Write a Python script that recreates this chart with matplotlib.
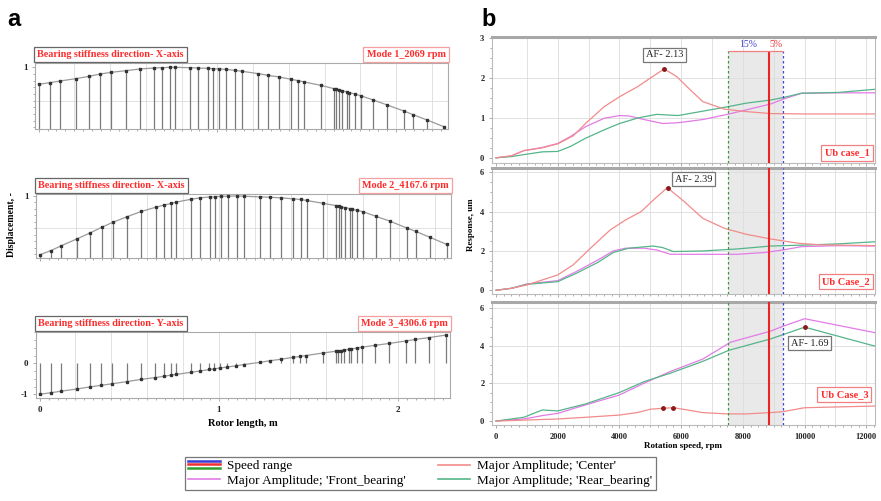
import matplotlib
matplotlib.use("Agg")
import matplotlib.pyplot as plt
from matplotlib.lines import Line2D
from matplotlib.legend_handler import HandlerBase
from matplotlib.ticker import MultipleLocator, FixedLocator

plt.rcParams['font.family'] = ['Liberation Serif', 'DejaVu Serif']
plt.rcParams['axes.unicode_minus'] = False

# ---------------- data: mode shapes (panel a) ----------------
node_x = [0, 0.063, 0.121, 0.207, 0.283, 0.345, 0.406, 0.488, 0.566, 0.646, 0.693,
          0.734, 0.762, 0.845, 0.894, 0.948, 0.974, 1.009, 1.047, 1.097, 1.140,
          1.229, 1.283, 1.345, 1.413, 1.453, 1.486, 1.579, 1.652, 1.665, 1.680,
          1.698, 1.726, 1.739, 1.769, 1.801, 1.872, 1.950, 2.043, 2.095, 2.173, 2.266]
mode1 = [0.745, 0.77, 0.795, 0.83, 0.865, 0.90, 0.925, 0.95, 0.975, 0.99, 0.995,
         1.0, 1.0, 0.995, 0.99, 0.985, 0.98, 0.975, 0.97, 0.955, 0.94,
         0.905, 0.88, 0.855, 0.82, 0.80, 0.78, 0.73, 0.68, 0.675, 0.665,
         0.65, 0.63, 0.62, 0.60, 0.575, 0.51, 0.435, 0.345, 0.29, 0.21, 0.11]
mode2 = [0.088, 0.155, 0.23, 0.335, 0.43, 0.515, 0.59, 0.68, 0.76, 0.825, 0.86,
         0.885, 0.905, 0.95, 0.97, 0.985, 0.985, 0.995, 0.995, 1.0, 0.995,
         0.985, 0.98, 0.97, 0.955, 0.945, 0.93, 0.885, 0.85, 0.84, 0.83,
         0.82, 0.805, 0.795, 0.775, 0.755, 0.685, 0.61, 0.505, 0.45, 0.36, 0.25]
mode3 = [-1.0, -0.95, -0.90, -0.83, -0.76, -0.71, -0.66, -0.59, -0.52, -0.46, -0.42,
         -0.38, -0.36, -0.29, -0.25, -0.20, -0.18, -0.15, -0.12, -0.08, -0.04,
         0.03, 0.08, 0.13, 0.19, 0.22, 0.25, 0.33, 0.39, 0.40, 0.41,
         0.43, 0.45, 0.46, 0.49, 0.52, 0.58, 0.64, 0.72, 0.77, 0.83, 0.91]
mode_titles = ["Bearing stiffness direction- X-axis", "Bearing stiffness direction- X-axis",
               "Bearing stiffness direction- Y-axis"]
mode_names = ["Mode 1_2069 rpm", "Mode 2_4167.6 rpm", "Mode 3_4306.6 rpm"]

# ---------------- data: responses (panel b) ----------------
c1_center_x = [0, 500, 900, 1500, 2000, 2500, 2900, 3500, 4000, 4600, 5000, 5450, 5850, 6300, 6700, 7400, 8100, 8900, 10000, 12300]
c1_center_y = [0, 0.05, 0.18, 0.25, 0.35, 0.55, 0.86, 1.28, 1.53, 1.79, 2.0, 2.23, 2.04, 1.7, 1.41, 1.22, 1.16, 1.11, 1.1, 1.1]
c1_front_x = [0, 500, 900, 1500, 2000, 2400, 2900, 3500, 4000, 4300, 4800, 5400, 5900, 6700, 7500, 8100, 8900, 9300, 9900, 11100, 12300]
c1_front_y = [0, 0.05, 0.18, 0.26, 0.36, 0.53, 0.78, 0.99, 1.06, 1.05, 0.96, 0.86, 0.88, 0.96, 1.09, 1.2, 1.35, 1.47, 1.62, 1.63, 1.63]
c1_rear_x = [0, 500, 900, 1500, 2000, 2400, 2900, 3500, 4000, 4600, 5200, 5900, 6700, 7500, 8100, 8900, 9300, 9900, 11100, 12300]
c1_rear_y = [0, 0.03, 0.08, 0.15, 0.16, 0.28, 0.49, 0.7, 0.86, 1.0, 1.09, 1.06, 1.17, 1.28, 1.37, 1.45, 1.51, 1.62, 1.64, 1.72]

c2_center_x = [0, 500, 1000, 2000, 2500, 3000, 3700, 4200, 4700, 5100, 5550, 6100, 6700, 7400, 8100, 8900, 9800, 10500, 12300]
c2_center_y = [0, 0.1, 0.27, 0.78, 1.29, 2.05, 3.07, 3.58, 4.0, 4.59, 5.22, 4.51, 3.66, 3.15, 2.85, 2.61, 2.39, 2.31, 2.27]
c2_front_x = [0, 500, 1000, 2000, 2600, 3300, 3800, 4200, 4800, 5200, 5650, 6700, 7800, 8700, 9300, 9900, 11100, 12300]
c2_front_y = [0, 0.1, 0.32, 0.49, 0.95, 1.54, 2.0, 2.14, 2.14, 2.05, 1.83, 1.83, 1.83, 1.92, 2.05, 2.22, 2.27, 2.25]
c2_rear_x = [0, 500, 1000, 2000, 2600, 3300, 3800, 4300, 5100, 5400, 5750, 6700, 7800, 8900, 10000, 11100, 12300]
c2_rear_y = [0, 0.1, 0.3, 0.44, 0.86, 1.42, 1.92, 2.14, 2.25, 2.17, 1.97, 2.0, 2.1, 2.25, 2.3, 2.36, 2.47]

c3_center_x = [0, 900, 2000, 2900, 4000, 4600, 5000, 5400, 5750, 6200, 6700, 7500, 8100, 8900, 9300, 10000, 12300]
c3_center_y = [0, 0.05, 0.11, 0.2, 0.32, 0.46, 0.63, 0.68, 0.71, 0.59, 0.45, 0.38, 0.38, 0.45, 0.5, 0.71, 0.8]
c3_front_x = [0, 900, 1500, 2000, 2900, 4000, 4800, 5650, 6700, 7600, 8900, 9300, 10000, 12300]
c3_front_y = [0, 0.11, 0.29, 0.41, 0.86, 1.39, 2.02, 2.64, 3.3, 4.2, 4.79, 5.05, 5.45, 4.7]
c3_rear_x = [0, 900, 1500, 2000, 2900, 4000, 4800, 5650, 6700, 7550, 8900, 10000, 12300]
c3_rear_y = [0, 0.2, 0.59, 0.54, 0.91, 1.52, 2.1, 2.55, 3.18, 3.77, 4.375, 5.0, 3.98]

case_names = ["Ub case_1", "Ub Case_2", "Ub Case_3"]
af_labels = ["AF- 2.13", "AF- 2.39", "AF- 1.69"]
af_points = [(5450, 2.23), (5560, 5.2), (10000, 5.0)]
c3_center_dots_x = [5400, 5750]
c3_center_dots_y = [0.68, 0.71]

speed_low, speed_op, speed_high = 7520, 8850, 9290

RED = '#f28b8b'
MAG = '#e27be6'
GRN = '#55b58a'
TXTRED = '#ff2b2b'

W, H = 881, 501


def px_axes(fig, left, top, right, bottom):
    return fig.add_axes([left / W, 1 - bottom / H, (right - left) / W, (bottom - top) / H])


class SpeedRange:
    colors = ['#3b3bd6', '#ee3030', '#2fa02f']


class StackHandler(HandlerBase):
    def create_artists(self, legend, orig_handle, xdescent, ydescent, width, height, fontsize, trans):
        arts = []
        for i, c in enumerate(orig_handle.colors):
            y = -ydescent + height * (0.9 - 0.38 * i)
            arts.append(Line2D([-xdescent, -xdescent + width], [y, y], color=c, lw=1.8, transform=trans))
        return arts


fig = plt.figure(figsize=(W / 100, H / 100), dpi=100)

# ---------------- panel a ----------------
a_boxes = [(35, 63, 448, 129), (36, 194, 451, 258), (36, 332, 450, 398)]
a_ylims = [(0.075, 1.065), (0.04, 1.03), (-1.12, 1.01)]
modes = [mode1, mode2, mode3]
for i, ax_box in enumerate(a_boxes):
    ax = px_axes(fig, *ax_box)
    y = modes[i]
    base = 0 if i == 2 else a_ylims[i][0]
    ax.vlines(node_x, base, y, color='#7a7a7a', lw=0.9, zorder=2)
    ax.plot(node_x, y, color='#9a9a9a', lw=0.9, zorder=3)
    ax.plot(node_x, y, ls='none', marker='s', ms=2.0, color='#333333', zorder=4)
    ax.set_xlim(-0.02, 2.29)
    ax.set_ylim(*a_ylims[i])
    ax.xaxis.set_major_locator(MultipleLocator(1))
    ax.xaxis.set_minor_locator(MultipleLocator(0.05))
    for gx in [k * 0.2 for k in range(1, 12)]:
        ax.axvline(gx, color='#dddddd', lw=0.6, zorder=0)
    if i == 2:
        ax.yaxis.set_major_locator(FixedLocator([-1, 0]))
        ax.yaxis.set_minor_locator(MultipleLocator(0.25))
    else:
        ax.yaxis.set_major_locator(FixedLocator([1]))
        ax.yaxis.set_minor_locator(MultipleLocator(0.1))
        ax.axhline(0.5, color='#dddddd', lw=0.6, zorder=0)
    ax.tick_params(which='both', direction='out', length=2, width=0.5, colors='#888888',
                   labelsize=6.5, labelcolor='#222222')
    ax.tick_params(which='minor', length=1.5)
    for lab in ax.get_xticklabels() + ax.get_yticklabels():
        lab.set_fontweight('bold')
    if i != 2:
        ax.set_xticklabels([])
    for s in ax.spines.values():
        s.set_color('#aaaaaa')
        s.set_linewidth(0.8)
    ax.text(0.006, 1.06, mode_titles[i], transform=ax.transAxes, ha='left', va='bottom',
            fontsize=7.3, fontweight='bold', color=TXTRED,
            bbox=dict(boxstyle='square,pad=0.3', fc='white', ec='#666666', lw=0.9))
    ax.text(0.994, 1.06, mode_names[i], transform=ax.transAxes, ha='right', va='bottom',
            fontsize=7.3, fontweight='bold', color=TXTRED,
            bbox=dict(boxstyle='square,pad=0.3', fc='white', ec='#f4a0a0', lw=0.9))
    if i == 2:
        ax.set_xlabel("Rotor length, m", fontsize=7.5, fontweight='bold', labelpad=4)

fig.text(12 / W, 1 - 225 / H, "Displacement, -", rotation=90, ha='center', va='center',
         fontsize=7, fontweight='bold')

# ---------------- panel b ----------------
b_boxes = [(492, 37, 875, 163), (492, 168, 875, 294), (492, 302, 875, 425)]
b_ylims = [(-0.13, 3.03), (-0.19, 6.22), (-0.21, 6.34)]
curves = [
    ((c1_front_x, c1_front_y), (c1_rear_x, c1_rear_y), (c1_center_x, c1_center_y)),
    ((c2_front_x, c2_front_y), (c2_rear_x, c2_rear_y), (c2_center_x, c2_center_y)),
    ((c3_front_x, c3_front_y), (c3_rear_x, c3_rear_y), (c3_center_x, c3_center_y)),
]
af_offsets = [(0, 14), (26, 9), (5, -16)]
case_pos = [(0.927, 0.08), (0.924, 0.10), (0.92, 0.25)]
for i, ax_box in enumerate(b_boxes):
    ax = px_axes(fig, *ax_box)
    ax.set_xlim(-130, 12280)
    ax.set_ylim(*b_ylims[i])
    top = 2.69 if i == 0 else b_ylims[i][1]
    ax.fill_between([speed_low, speed_high], b_ylims[i][0], top, color='#e9e9e9', zorder=0, lw=0)
    for gx in range(1000, 13000, 1000):
        ax.axvline(gx, color='#dcdcdc', lw=0.6, zorder=0.5)
    step = 1 if i == 0 else 2
    for gy in range(step, int(b_ylims[i][1]) + 1, step):
        ax.axhline(gy, color='#dcdcdc', lw=0.6, zorder=0.5)
    (fx, fy), (rx, ry), (cx, cy) = curves[i]
    ax.plot(fx, fy, color=MAG, lw=0.9, zorder=3)
    ax.plot(rx, ry, color=GRN, lw=0.9, zorder=3)
    ax.plot(cx, cy, color=RED, lw=0.9, zorder=3)
    ax.vlines(speed_low, b_ylims[i][0], top, color='#3a9a3a', lw=0.9, ls=(0, (2, 2)), zorder=4)
    ax.vlines(speed_high, b_ylims[i][0], top, color='#4444dd', lw=0.9, ls=(0, (2, 2)), zorder=4)
    ax.vlines(speed_op, b_ylims[i][0], top, color='#ee2222', lw=1.5, zorder=4)
    if i == 0:
        ax.hlines(top, speed_low, speed_high, color='#f08080', lw=0.9, zorder=4)
        ax.text((speed_low + speed_op) / 2, 2.72, "15%", ha='center', va='bottom',
                fontsize=7, color='#4444cc')
        ax.text((speed_op + speed_high) / 2, 2.72, "5%", ha='center', va='bottom',
                fontsize=7, color='#ee3333')
    if i == 2:
        ax.plot(c3_center_dots_x, c3_center_dots_y, ls='none', marker='o', ms=2.5,
                color='#8b1a1a', zorder=5)
    px, py = af_points[i]
    ax.plot(px, py, ls='none', marker='o', ms=2.5, color='#8b1a1a', zorder=5)
    ax.annotate(af_labels[i], (px, py), xytext=af_offsets[i], textcoords='offset pixels',
                ha='center', va='center', fontsize=7.5, color='#222222', zorder=6,
                bbox=dict(boxstyle='square,pad=0.25', fc='white', ec='#777777', lw=0.9))
    ax.text(case_pos[i][0], case_pos[i][1], case_names[i], transform=ax.transAxes,
            ha='center', va='center', fontsize=7.5, fontweight='bold', color=TXTRED, zorder=6,
            bbox=dict(boxstyle='square,pad=0.3', fc='white', ec='#f08080', lw=0.9))
    ax.xaxis.set_major_locator(MultipleLocator(2000))
    ax.xaxis.set_minor_locator(MultipleLocator(250))
    ax.yaxis.set_major_locator(MultipleLocator(step))
    ax.yaxis.set_minor_locator(MultipleLocator(step / 4))
    ax.tick_params(which='both', direction='out', length=2, width=0.5, colors='#888888',
                   labelsize=6, labelcolor='#222222')
    ax.tick_params(which='minor', length=1.5)
    for lab in ax.get_xticklabels() + ax.get_yticklabels():
        lab.set_fontweight('bold')
    if i != 2:
        ax.set_xticklabels([])
    for s in ax.spines.values():
        s.set_color('#bbbbbb')
        s.set_linewidth(0.8)
    ax.spines['top'].set_color('#a8a8a8')
    ax.spines['top'].set_linewidth(2.2)
    if i == 2:
        ax.set_xlabel("Rotation speed, rpm", fontsize=6.5, fontweight='bold', labelpad=1)

fig.text(471 / W, 1 - 225 / H, "Response, um", rotation=90, ha='center', va='center',
         fontsize=6.5, fontweight='bold')

fig.text(7 / W, 1 - 26 / H, "a", fontsize=17, fontweight='bold', family='Liberation Sans')
fig.text(481 / W, 1 - 26 / H, "b", fontsize=17, fontweight='bold', family='Liberation Sans')

# ---------------- legend ----------------
handles = [SpeedRange(), Line2D([], [], color=MAG, lw=1.2),
           Line2D([], [], color=RED, lw=1.2), Line2D([], [], color=GRN, lw=1.2)]
labels = ["Speed range", "Major Amplitude; 'Front_bearing'",
          "Major Amplitude; 'Center'", "Major Amplitude; 'Rear_bearing'"]
leg = fig.legend(handles, labels, handler_map={SpeedRange: StackHandler()}, ncol=2,
                 loc='lower left', bbox_to_anchor=(178 / W, 1 - 497 / H), fontsize=9.5,
                 frameon=True, fancybox=False, edgecolor='#555555', borderpad=0.25,
                 handlelength=2.4, handletextpad=0.6, columnspacing=2.4, labelspacing=0.2)
leg.get_frame().set_linewidth(0.9)

fig.savefig("out.png", dpi=100)
